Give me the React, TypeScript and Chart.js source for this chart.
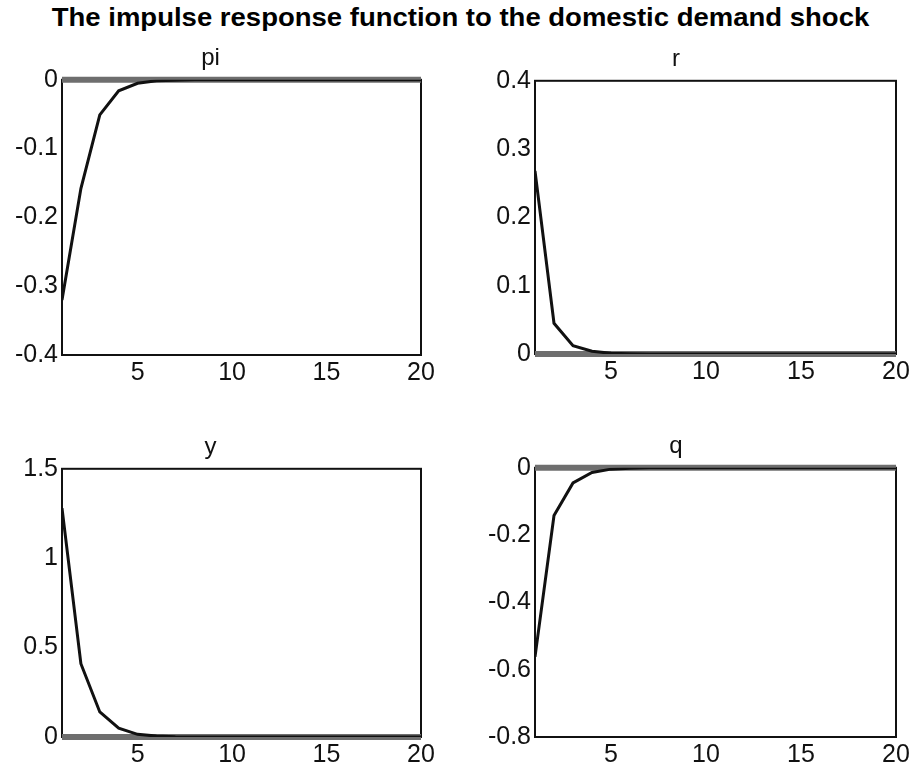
import React, { useEffect, useRef } from "react";
import { Chart, registerables } from "chart.js";

Chart.register(...registerables);

const mainTitle = "The impulse response function to the domestic demand shock";

const periods = [1, 2, 3, 4, 5, 6, 7, 8, 9, 10, 11, 12, 13, 14, 15, 16, 17, 18, 19, 20];
const xTicks = [5, 10, 15, 20];

const piValues = [-0.32, -0.158, -0.051, -0.016, -0.005, -0.0015, -0.0005, 0, 0, 0, 0, 0, 0, 0, 0, 0, 0, 0, 0, 0];
const rValues = [0.268, 0.045, 0.012, 0.004, 0.001, 0.0003, 0, 0, 0, 0, 0, 0, 0, 0, 0, 0, 0, 0, 0, 0];
const yValues = [1.28, 0.41, 0.14, 0.05, 0.015, 0.005, 0.001, 0, 0, 0, 0, 0, 0, 0, 0, 0, 0, 0, 0, 0];
const qValues = [-0.562, -0.142, -0.045, -0.014, -0.004, -0.001, 0, 0, 0, 0, 0, 0, 0, 0, 0, 0, 0, 0, 0, 0];
const steadyState = [0, 0, 0, 0, 0, 0, 0, 0, 0, 0, 0, 0, 0, 0, 0, 0, 0, 0, 0, 0];

const piTicks = [-0.4, 0];
const rTicks = [0, 0.4];
const yTicks = [0, 1.5];
const qTicks = [-0.8, 0];

type Panel = {
  name: string;
  values: number[];
  range: number[];
  step: number;
  left: number;
  top: number;
  width: number;
  height: number;
  yAxisW: number;
  xAxisH: number;
  padRight: number;
};

const panels: Panel[] = [
  { name: "pi", values: piValues, range: piTicks, step: 0.1, left: 0, top: 28, width: 440, height: 372, yAxisW: 62, xAxisH: 45, padRight: 19 },
  { name: "r", values: rValues, range: rTicks, step: 0.1, left: 456, top: 29, width: 457, height: 371, yAxisW: 79, xAxisH: 46, padRight: 17 },
  { name: "y", values: yValues, range: yTicks, step: 0.5, left: 0, top: 417, width: 440, height: 353, yAxisW: 62, xAxisH: 33, padRight: 19 },
  { name: "q", values: qValues, range: qTicks, step: 0.2, left: 456, top: 416, width: 457, height: 354, yAxisW: 79, xAxisH: 33, padRight: 17 },
];

const FONT = "'Liberation Sans', Arial, Helvetica, sans-serif";

const boxPlugin = {
  id: "boxPlugin",
  beforeDatasetsDraw(chart: any) {
    const { ctx, chartArea } = chart;
    ctx.save();
    ctx.strokeStyle = "#111";
    ctx.lineWidth = 2;
    ctx.strokeRect(chartArea.left, chartArea.top, chartArea.right - chartArea.left, chartArea.bottom - chartArea.top);
    ctx.restore();
  },
};

function fmt(v: number) {
  return String(Number(Number(v).toFixed(2)));
}

function PanelChart({ p }: { p: Panel }) {
  const ref = useRef<HTMLCanvasElement>(null);
  useEffect(() => {
    if (!ref.current) return;
    const chart = new Chart(ref.current, {
      type: "line",
      data: {
        labels: periods,
        datasets: [
          {
            data: periods.map((x, i) => ({ x, y: p.values[i] })),
            borderColor: "#111",
            borderWidth: 3,
            pointRadius: 0,
            tension: 0,
            order: 0,
          },
          {
            data: periods.map((x, i) => ({ x, y: steadyState[i] })),
            borderColor: "#6e6e6e",
            borderWidth: 6,
            pointRadius: 0,
            tension: 0,
            clip: false,
            borderCapStyle: "butt",
            order: 1,
          },
        ],
      },
      options: {
        animation: false,
        responsive: false,
        devicePixelRatio: 1,
        layout: { padding: { left: 0, right: p.padRight, top: 0, bottom: 0 } },
        plugins: {
          legend: { display: false },
          tooltip: { enabled: false },
          title: {
            display: true,
            text: p.name,
            color: "#111",
            font: { family: FONT, size: 24, weight: "normal", lineHeight: 1.2 },
            padding: { top: 16, bottom: 7 },
          },
        },
        scales: {
          x: {
            type: "linear",
            min: periods[0],
            max: periods[periods.length - 1],
            grid: { display: false, drawTicks: false },
            border: { display: false },
            afterBuildTicks: (scale: any) => {
              scale.ticks = xTicks.map((v) => ({ value: v }));
            },
            afterFit: (scale: any) => {
              scale.height = p.xAxisH;
            },
            ticks: {
              color: "#111",
              padding: 3,
              maxRotation: 0,
              autoSkip: false,
              font: { family: FONT, size: 25 },
              callback: (v: any) => fmt(v),
            },
          },
          y: {
            type: "linear",
            min: p.range[0],
            max: p.range[1],
            grid: { display: false, drawTicks: false },
            border: { display: false },
            afterFit: (scale: any) => {
              scale.width = p.yAxisW;
            },
            ticks: {
              color: "#111",
              padding: 4,
              stepSize: p.step,
              font: { family: FONT, size: 25 },
              callback: (v: any) => fmt(v),
            },
          },
        },
      },
      plugins: [boxPlugin],
    } as any);
    return () => chart.destroy();
  }, [p]);
  return (
    <canvas
      ref={ref}
      width={p.width}
      height={p.height}
      style={{ position: "absolute", left: p.left, top: p.top, width: p.width, height: p.height }}
    />
  );
}

export default function App() {
  return (
    <div style={{ position: "absolute", left: 0, top: 0, width: 913, height: 770, overflow: "hidden", background: "#fff" }}>
      <div
        style={{
          position: "absolute",
          left: 4,
          top: 5,
          width: 913,
          textAlign: "center",
          fontFamily: FONT,
          fontWeight: "bold",
          fontSize: 25,
          lineHeight: "25px",
          color: "#000",
          whiteSpace: "nowrap",
          transform: "scaleX(1.1)",
          transformOrigin: "center",
        }}
      >
        {mainTitle}
      </div>
      {panels.map((p) => (
        <PanelChart key={p.name} p={p} />
      ))}
    </div>
  );
}
